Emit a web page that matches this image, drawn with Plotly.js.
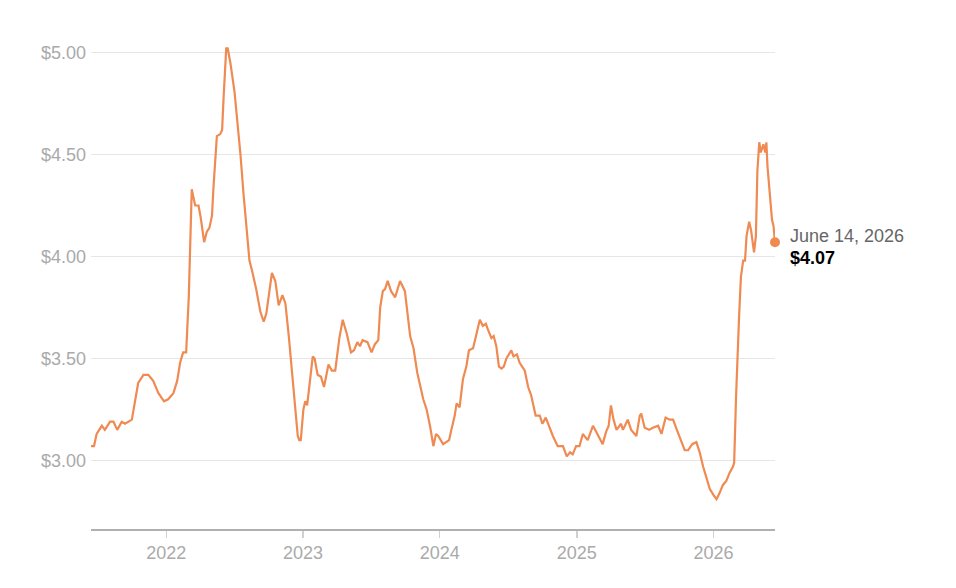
<!DOCTYPE html>
<html>
<head>
<meta charset="utf-8">
<script src="https://cdn.plot.ly/plotly-3.0.1.min.js"></script>
<style>
  html, body { margin: 0; padding: 0; background: #ffffff; }
  #chart { width: 956px; height: 588px; }
</style>
</head>
<body>
<div id="chart"></div>
<script>
// Average gas price, weekly-ish readings (USD per gallon)
const dates2021 = ["2021-06-14","2021-06-22","2021-06-29","2021-07-13","2021-07-21","2021-08-04","2021-08-13","2021-08-23","2021-09-04","2021-09-13","2021-10-01","2021-10-07","2021-10-18","2021-11-01","2021-11-14","2021-11-27","2021-12-11","2021-12-26"];
const prices2021 = [3.07,3.07,3.13,3.17,3.15,3.19,3.19,3.15,3.19,3.18,3.20,3.27,3.38,3.42,3.42,3.39,3.33,3.29];

const dates2022 = ["2022-01-06","2022-01-20","2022-01-30","2022-02-07","2022-02-15","2022-02-23","2022-02-26","2022-03-02","2022-03-10","2022-03-19","2022-03-28","2022-04-03","2022-04-12","2022-04-19","2022-04-26","2022-05-03","2022-05-07","2022-05-12","2022-05-16","2022-05-25","2022-05-30","2022-06-03","2022-06-10","2022-06-14","2022-06-21","2022-07-02","2022-07-09","2022-07-18","2022-07-26","2022-08-06","2022-08-11","2022-08-18","2022-08-29","2022-09-09","2022-09-18","2022-09-25","2022-10-01","2022-10-10","2022-10-19","2022-10-28","2022-11-07","2022-11-15","2022-11-24","2022-12-07","2022-12-18","2022-12-22","2022-12-26"];
const prices2022 = [3.30,3.33,3.39,3.48,3.53,3.53,3.62,3.80,4.33,4.25,4.25,4.19,4.07,4.12,4.14,4.20,4.34,4.47,4.59,4.60,4.62,4.78,5.02,5.02,4.95,4.81,4.68,4.50,4.31,4.10,3.98,3.93,3.84,3.73,3.68,3.72,3.80,3.92,3.88,3.76,3.81,3.77,3.61,3.35,3.12,3.10,3.10];

const dates2023 = ["2023-01-02","2023-01-07","2023-01-12","2023-01-21","2023-01-27","2023-02-01","2023-02-09","2023-02-18","2023-02-26","2023-03-10","2023-03-19","2023-03-28","2023-04-01","2023-04-08","2023-04-17","2023-04-28","2023-05-09","2023-05-17","2023-05-26","2023-06-02","2023-06-09","2023-06-22","2023-07-03","2023-07-12","2023-07-21","2023-07-26","2023-08-02","2023-08-08","2023-08-15","2023-08-24","2023-09-04","2023-09-17","2023-09-30","2023-10-14","2023-10-23","2023-11-02","2023-11-18","2023-11-27","2023-12-06","2023-12-15","2023-12-22","2023-12-28"];
const prices2023 = [3.25,3.29,3.27,3.42,3.51,3.50,3.42,3.41,3.36,3.47,3.44,3.44,3.51,3.60,3.69,3.62,3.53,3.54,3.58,3.56,3.59,3.58,3.53,3.57,3.59,3.75,3.83,3.84,3.88,3.83,3.80,3.88,3.83,3.61,3.55,3.43,3.30,3.25,3.17,3.07,3.13,3.12];

const dates2024 = ["2024-01-10","2024-01-19","2024-01-26","2024-02-01","2024-02-10","2024-02-15","2024-02-23","2024-03-03","2024-03-12","2024-03-19","2024-03-30","2024-04-08","2024-04-17","2024-04-25","2024-05-03","2024-05-09","2024-05-18","2024-05-24","2024-05-31","2024-06-07","2024-06-14","2024-06-20","2024-06-27","2024-07-10","2024-07-16","2024-07-25","2024-08-01","2024-08-15","2024-08-24","2024-09-01","2024-09-13","2024-09-24","2024-10-01","2024-10-10","2024-10-18","2024-10-29","2024-11-11","2024-11-25","2024-12-05","2024-12-14","2024-12-21","2024-12-30"];
const prices2024 = [3.08,3.09,3.10,3.15,3.22,3.28,3.26,3.40,3.46,3.54,3.55,3.62,3.69,3.66,3.67,3.64,3.60,3.61,3.56,3.46,3.45,3.46,3.50,3.54,3.51,3.52,3.48,3.44,3.36,3.32,3.22,3.22,3.18,3.21,3.17,3.12,3.07,3.07,3.02,3.04,3.03,3.07];

const dates2025 = ["2025-01-08","2025-01-17","2025-01-30","2025-02-13","2025-02-22","2025-03-03","2025-03-11","2025-03-20","2025-03-27","2025-04-02","2025-04-09","2025-04-17","2025-04-29","2025-05-04","2025-05-17","2025-05-26","2025-06-09","2025-06-18","2025-06-22","2025-07-01","2025-07-13","2025-07-23","2025-08-06","2025-08-15","2025-08-26","2025-09-06","2025-09-15","2025-09-25","2025-10-04","2025-10-16","2025-10-25","2025-11-05","2025-11-16","2025-11-25","2025-12-04","2025-12-13","2025-12-22"];
const prices2025 = [3.07,3.13,3.10,3.17,3.14,3.11,3.08,3.14,3.17,3.27,3.20,3.15,3.18,3.15,3.20,3.15,3.12,3.22,3.23,3.16,3.15,3.16,3.17,3.13,3.21,3.20,3.20,3.15,3.11,3.05,3.05,3.08,3.09,3.04,2.97,2.92,2.86];

const dates2026 = ["2026-01-01","2026-01-09","2026-01-17","2026-01-26","2026-02-04","2026-02-13","2026-02-22","2026-02-25","2026-03-02","2026-03-06","2026-03-10","2026-03-15","2026-03-21","2026-03-26","2026-03-30","2026-04-06","2026-04-11","2026-04-19","2026-04-24","2026-04-28","2026-05-03","2026-05-07","2026-05-14","2026-05-19","2026-05-22","2026-05-25","2026-05-31","2026-06-06","2026-06-10","2026-06-14"];
const prices2026 = [2.83,2.81,2.84,2.88,2.90,2.94,2.97,2.99,3.31,3.54,3.70,3.90,3.98,3.98,4.10,4.17,4.13,4.02,4.10,4.42,4.56,4.51,4.55,4.51,4.56,4.44,4.29,4.18,4.15,4.07];

const yTicks = [3, 3.5, 4, 4.5, 5];
const yTickText = ["$3.00", "$3.50", "$4.00", "$4.50", "$5.00"];
const lastLabel = "June 14, 2026";
const lastValueLabel = "$4.07";

const dates = [].concat(dates2021, dates2022, dates2023, dates2024, dates2025, dates2026);
const prices = [].concat(prices2021, prices2022, prices2023, prices2024, prices2025, prices2026);
const lastDate = dates[dates.length - 1];
const lastPrice = prices[prices.length - 1];

const orange = "#ef8a52";

const traces = [
  {
    x: dates, y: prices, type: "scatter", mode: "lines",
    line: { color: orange, width: 2.2 },
    hoverinfo: "skip"
  },
  {
    x: [lastDate], y: [lastPrice], type: "scatter", mode: "markers",
    marker: { color: orange, size: 10 },
    cliponaxis: false,
    hoverinfo: "skip"
  }
];

const layout = {
  width: 956, height: 588,
  margin: { l: 91, r: 181, t: 42, b: 59 },
  paper_bgcolor: "#ffffff",
  plot_bgcolor: "#ffffff",
  showlegend: false,
  font: { family: "Liberation Sans, Arial, sans-serif", size: 18, color: "#aaaaaa" },
  xaxis: {
    type: "date",
    range: ["2021-06-14", "2026-06-14"],
    tick0: "2022-01-01", dtick: "M12", tickformat: "%Y",
    showgrid: false, zeroline: false,
    showline: true, linecolor: "#b0b0b0", linewidth: 1.5,
    ticks: "outside", ticklen: 7, tickwidth: 1.5, tickcolor: "#d0d0d0",
    tickfont: { size: 18, color: "#aaaaaa" },
    fixedrange: true
  },
  yaxis: {
    range: [2.664, 5.0515],
    tickmode: "array",
    tickvals: yTicks,
    ticktext: yTickText,
    showgrid: true, gridcolor: "#e6e6e6", gridwidth: 1.5,
    zeroline: false, showline: false, ticks: "",
    ticklabelstandoff: 4,
    tickfont: { size: 18, color: "#aaaaaa" },
    fixedrange: true
  },
  annotations: [
    {
      x: lastDate, y: lastPrice, xref: "x", yref: "y",
      text: lastLabel, showarrow: false,
      xanchor: "left", yanchor: "middle", xshift: 13, yshift: 6,
      font: { size: 18, color: "#666666", family: "Liberation Sans, Arial, sans-serif" }
    },
    {
      x: lastDate, y: lastPrice, xref: "x", yref: "y",
      text: "<b>" + lastValueLabel + "</b>", showarrow: false,
      xanchor: "left", yanchor: "middle", xshift: 13, yshift: -16,
      font: { size: 18, color: "#000000", family: "Liberation Sans, Arial, sans-serif" }
    }
  ]
};

Plotly.newPlot("chart", traces, layout, { displayModeBar: false, staticPlot: true });
</script>
</body>
</html>
